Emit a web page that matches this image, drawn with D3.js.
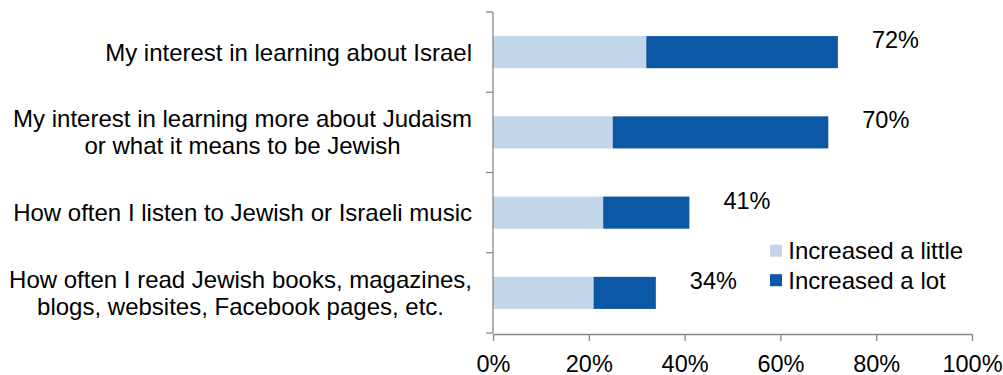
<!DOCTYPE html>
<html>
<head>
<meta charset="utf-8">
<script src="https://cdn.jsdelivr.net/npm/d3@7"></script>
<style>
  html, body { margin: 0; padding: 0; background: #fff; }
  svg { display: block; font-family: "Liberation Sans", Arial, sans-serif; }
</style>
</head>
<body>
<svg id="chart" width="1003" height="375"></svg>
<script>
// Survey items (top to bottom); "\n" marks a line break in the label
const categories = [
  "My interest in learning about Israel",
  "My interest in learning more about Judaism\nor what it means to be Jewish",
  "How often I listen to Jewish or Israeli music",
  "How often I read Jewish books, magazines,\nblogs, websites, Facebook pages, etc."
];
const increasedLittle = [32, 25, 23, 21];
const increasedLot = [40, 45, 18, 13];
const totals = [72, 70, 41, 34];
const seriesNames = ["Increased a little", "Increased a lot"];
const xTicks = [0, 20, 40, 60, 80, 100];

const colors = ["#c3d5e9", "#0c58a4"];
const fontSize = 24;
const tickFontSize = 23.5;
const axisColor = "#888888";

const svg = d3.select("#chart");

const x = d3.scaleLinear().domain([0, 100]).range([493, 972]);
const y = d3.scaleBand().domain(d3.range(categories.length))
  .range([12, 333]).paddingInner(0.6).paddingOuter(0.3);

// Stacked segments
const rows = categories.map((c, i) => ({ i, little: increasedLittle[i], lot: increasedLot[i] }));
const stack = d3.stack().keys(["little", "lot"]);
const layers = stack(rows);

svg.append("g").selectAll("g")
  .data(layers)
  .join("g")
  .attr("fill", (d, k) => colors[k])
  .selectAll("rect")
  .data(d => d)
  .join("rect")
  .attr("x", d => x(d[0]))
  .attr("width", d => x(d[1]) - x(d[0]))
  .attr("y", d => y(d.data.i))
  .attr("height", y.bandwidth());

// Vertical category axis with ticks at band boundaries
const [y0, y1] = y.range();
const boundaries = d3.range(categories.length + 1).map(k => y0 + k * ((y1 - y0) / categories.length));
const yAxisG = svg.append("g").attr("stroke", axisColor).attr("stroke-width", 1.3);
yAxisG.append("line")
  .attr("x1", x(0)).attr("x2", x(0))
  .attr("y1", y0).attr("y2", y1);
yAxisG.selectAll("line.tick")
  .data(boundaries)
  .join("line")
  .attr("class", "tick")
  .attr("x1", x(0) - 7).attr("x2", x(0))
  .attr("y1", d => d).attr("y2", d => d);

// Horizontal value axis
const xAxis = d3.axisBottom(x)
  .tickValues(xTicks)
  .tickFormat(d => d + "%")
  .tickSize(7)
  .tickPadding(14)
  .tickSizeOuter(0);

const xg = svg.append("g")
  .attr("transform", `translate(0,${y1 + 1})`)
  .call(xAxis);
xg.select(".domain").attr("stroke", axisColor).attr("stroke-width", 1.3);
xg.selectAll(".tick line").attr("stroke", axisColor).attr("stroke-width", 1.3);
xg.selectAll(".tick text")
  .attr("fill", "#000")
  .style("font-size", tickFontSize + "px")
  .style("font-family", '"Liberation Sans", Arial, sans-serif');

// Category labels: block right-aligned, lines centred within the block
const lineHeight = 27;
const labelRight = x(0) - 21;
categories.forEach((c, i) => {
  const lines = c.split("\n");
  const cy = y(i) + y.bandwidth() / 2;
  const g = svg.append("g");
  const texts = lines.map((ln, j) => g.append("text")
    .attr("y", cy + (j - (lines.length - 1) / 2) * lineHeight)
    .attr("dy", "0.35em")
    .style("font-size", fontSize + "px")
    .attr("fill", "#000")
    .text(ln));
  const widths = texts.map(t => t.node().getComputedTextLength());
  const maxW = d3.max(widths);
  texts.forEach(t => t.attr("x", labelRight - maxW / 2).attr("text-anchor", "middle"));
});

// Total labels past each bar
svg.append("g").selectAll("text")
  .data(totals)
  .join("text")
  .attr("x", d => x(d) + 34)
  .attr("y", (d, i) => y(i) + y.bandwidth() / 2 - 4)
  .style("font-size", tickFontSize + "px")
  .attr("fill", "#000")
  .text(d => d + "%");

// Legend
const legend = svg.append("g").attr("transform", "translate(770,259)");
seriesNames.forEach((name, k) => {
  const row = legend.append("g").attr("transform", `translate(0,${k * 29.5})`);
  row.append("rect")
    .attr("x", 0).attr("y", -14.3)
    .attr("width", 12).attr("height", 12)
    .attr("fill", colors[k]);
  row.append("text")
    .attr("x", 18.3).attr("y", 0)
    .style("font-size", fontSize + "px")
    .attr("fill", "#000")
    .text(name);
});
</script>
</body>
</html>
